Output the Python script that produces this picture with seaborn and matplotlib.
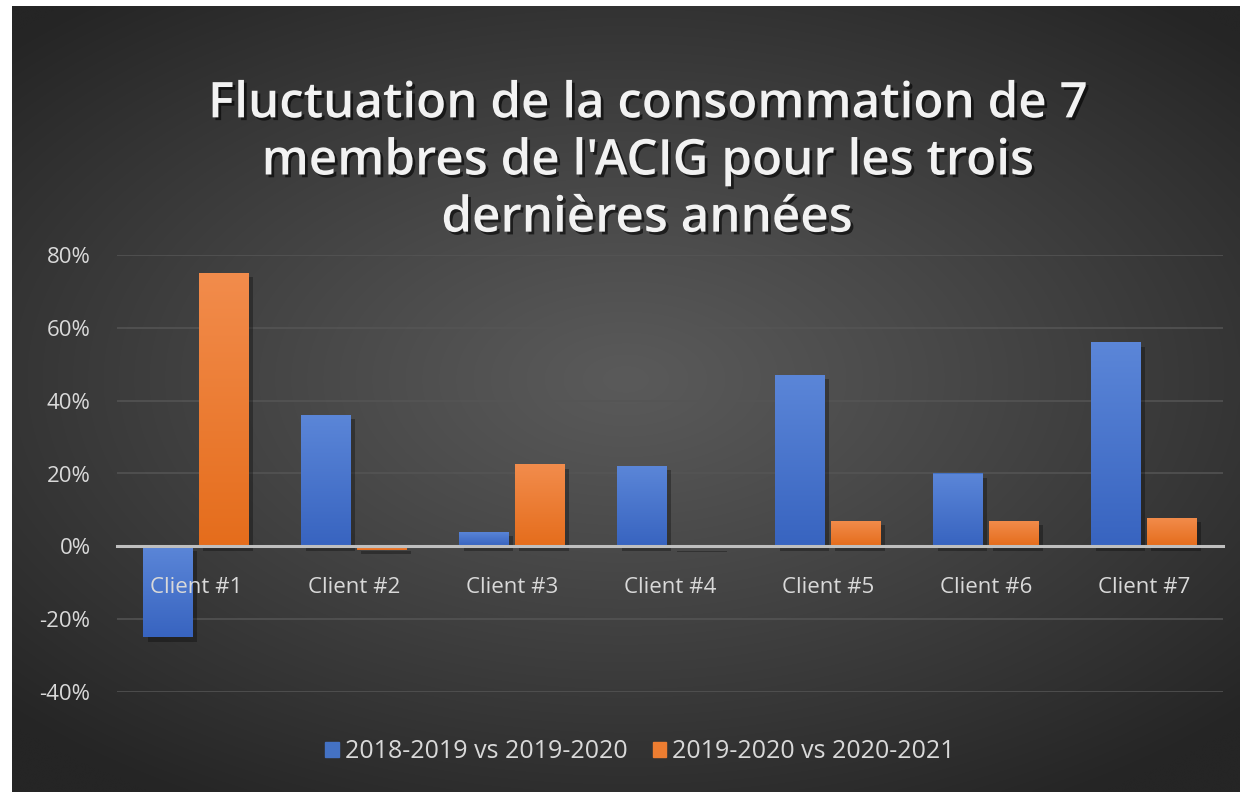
import numpy as np
import pandas as pd
import matplotlib
matplotlib.use("Agg")
import matplotlib.pyplot as plt
import matplotlib.patheffects as pe
from matplotlib.patches import Rectangle
from matplotlib.colors import to_rgb, to_hex
import seaborn as sns

categories = ["Client #1", "Client #2", "Client #3", "Client #4", "Client #5", "Client #6", "Client #7"]
series_names = ["2018-2019 vs 2019-2020", "2019-2020 vs 2020-2021"]
s1_values = [-25, 36, 4, 22, 47, 20, 56]
s2_values = [75, -1, 22.5, -0.5, 7, 7, 7.7]
y_ticks = [-40, -20, 0, 20, 40, 60, 80]
title_text = "Fluctuation de la consommation de 7\nmembres de l'ACIG pour les trois\ndernières années"

df = pd.DataFrame({
    "client": categories * 2,
    "serie": [series_names[0]] * len(categories) + [series_names[1]] * len(categories),
    "valeur": s1_values + s2_values,
})

sns.set_theme(style="dark")
plt.rcParams['font.family'] = ['Open Sans', 'DejaVu Sans']

W, H = 1240, 792
fig = plt.figure(figsize=(W / 100, H / 100), dpi=100, facecolor="white")

# dark radial gradient background panel
bg = fig.add_axes([12 / W, 0, 1 - 12 / W, 1 - 6 / H], zorder=0)
yy, xx = np.mgrid[-1:1:300j, -1:1:400j]
r = np.sqrt((xx * 0.9) ** 2 + ((yy + 0.05) * 1.0) ** 2)
r = np.clip(r / 1.25, 0, 1)
c_center, c_edge = 0x5a / 255, 0x25 / 255
img = c_center + (c_edge - c_center) * r ** 1.1
bg.imshow(np.dstack([img, img, img]), aspect="auto", extent=[0, 1, 0, 1], interpolation="bicubic")
bg.set_axis_off()

ax = fig.add_axes([117 / W, 1 - 692 / H, (1223 - 117) / W, (692 - 255) / H], zorder=1)
ax.patch.set_alpha(0)

palette = {series_names[0]: "#4472c4", series_names[1]: "#ed7d31"}
sns.barplot(data=df, x="client", y="valeur", hue="serie", palette=palette,
            width=0.70, gap=0.1, ax=ax, legend=False, saturation=1, zorder=3, linewidth=0)

ax.set_xlim(-0.5, len(categories) - 0.5)
ax.set_ylim(-40, 80)
ax.set_yticks(y_ticks)
ax.set_yticklabels([f"{v}%" for v in y_ticks])
ax.grid(axis="y", color="#555555", linewidth=1.1, zorder=0)
ax.grid(axis="x", visible=False)
for s in ["top", "right", "left"]:
    ax.spines[s].set_visible(False)
ax.spines["bottom"].set_position(("data", 0))
ax.spines["bottom"].set_color("#bfbfbf")
ax.spines["bottom"].set_linewidth(2.2)
ax.spines["bottom"].set_zorder(5)
ax.tick_params(axis="y", length=0, pad=19, labelsize=16, labelcolor="#d9d9d9")
ax.tick_params(axis="x", length=0, pad=22, labelsize=16, labelcolor="#d9d9d9")
ax.xaxis.set_zorder(10)
ax.set_xlabel("")
ax.set_ylabel("")

# gradient overlay + shadow on bars
grads = {"#4472c4": ("#5b86d8", "#3864c0"), "#ed7d31": ("#f28c4c", "#e56d1c")}
for p in list(ax.patches):
    fc = to_hex(p.get_facecolor())
    top_c, bot_c = grads.get(fc, (fc, fc))
    x0, w = p.get_x(), p.get_width()
    y0, h = p.get_y(), p.get_height()
    ylo, yhi = min(y0, y0 + h), max(y0, y0 + h)
    t = np.linspace(0, 1, 64)[:, None]
    a, b = np.array(to_rgb(top_c)), np.array(to_rgb(bot_c))
    g = a[None, None, :] * (1 - t[..., None]) + b[None, None, :] * t[..., None]
    g = np.repeat(g, 2, axis=1)
    im = ax.imshow(g, extent=[x0, x0 + w, ylo, yhi], aspect="auto", zorder=4, interpolation="bilinear")
    im.set_clip_path(p)
    p.set_path_effects([pe.SimplePatchShadow(offset=(3, -3), shadow_rgbFace="#000000", alpha=0.3), pe.Normal()])
ax.set_xlim(-0.5, len(categories) - 0.5)
ax.set_ylim(-40, 80)

fig.text(647 / W, 1 - 162 / H, title_text, ha="center", va="center", fontsize=35.5, fontweight="semibold",
         color="#f2f2f2", linespacing=1.22,
         path_effects=[pe.withSimplePatchShadow(offset=(2, -2), shadow_rgbFace="#000000", alpha=0.6)])

handles = [Rectangle((0, 0), 1, 1, color=palette[n]) for n in series_names]
leg = fig.legend(handles, series_names, loc="center", bbox_to_anchor=(640 / W, 1 - 752 / H), ncol=2,
                 frameon=False, fontsize=18, labelcolor="#d9d9d9", handlelength=0.55, handleheight=0.55,
                 handletextpad=0.25, columnspacing=1.0)

fig.savefig("out.png", dpi=100, facecolor="white")
